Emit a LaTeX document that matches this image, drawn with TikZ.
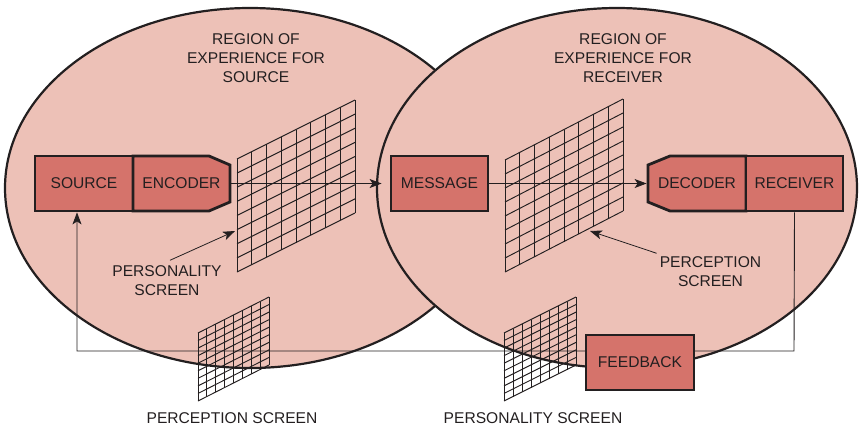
\documentclass[tikz,border=0pt]{standalone}
\usepackage{fontspec}
\setmainfont{Liberation Sans}
\usepackage{tikz}
\usetikzlibrary{arrows.meta,calc}
\definecolor{ink}{HTML}{231F20}
\definecolor{regionpink}{HTML}{EDC1B7}
\definecolor{boxred}{HTML}{D5736B}
\newcommand{\labelfont}{\fontsize{15.6}{19}\selectfont}
\tikzset{
  region/.style={fill=regionpink, draw=ink, line width=2.2pt},
  boxline/.style={fill=boxred, draw=ink, line width=2.8pt, line join=miter},
  boxtext/.style={font=\labelfont, text=ink, inner sep=0pt, minimum height=55pt},
  srcbox/.style={boxline, boxtext},
  lbl/.style={font=\labelfont, text=ink, align=center, inner sep=3pt},
  flow/.style={draw=ink, line width=0.9pt, -{Stealth[length=12pt,width=9pt,inset=3pt]}},
  gridline/.style={draw=ink, line width=0.95pt}
}
% screen: left x, top-left y, width, height, rise, columns, rows
\newcommand{\screengrid}[7]{%
  \foreach \i in {0,...,#6}
    \draw[gridline] ({#1+\i*#3/#6},{#2-\i*#5/#6}) -- ++(0,#4);
  \foreach \j in {0,...,#7}
    \draw[gridline] (#1,{#2+\j*#4/#7}) -- ++(#3,-#5);
}

\begin{document}
\begin{tikzpicture}[x=1pt, y=-1pt]
\useasboundingbox (0,0) rectangle (859,429);

% regions of experience
\draw[region] (250,188) ellipse [x radius=245, y radius=180];
\draw[region] (617,188) ellipse [x radius=240, y radius=180];
\node[lbl] (srcregion) at (256,58) {REGION OF\\EXPERIENCE FOR\\SOURCE};
\node[lbl] (rcvregion) at (623,58) {REGION OF\\EXPERIENCE FOR\\RECEIVER};

% screens inside the regions
\screengrid{237}{159}{118}{113}{59}{8}{8}
\screengrid{505}{160}{118}{112}{61}{8}{8}

% feedback loop
\coordinate (fbturn) at (794,351);
\coordinate (fbback) at (77,351);

% boxes
\node[srcbox, minimum width=98pt] (source) at (84,183.5) {SOURCE};
\draw[boxline] (133,156) -- (209,156) -- (230,165) -- (230,202) -- (209,211) -- (133,211) -- cycle
  node[boxtext, minimum width=97pt] (encoder) at (181.5,183.5) {ENCODER};
\node[srcbox, minimum width=97pt] (message) at (439.5,183.5) {MESSAGE};
\draw[boxline] (746,156) -- (670,156) -- (648,165) -- (648,202) -- (670,211) -- (746,211) -- cycle
  node[boxtext, minimum width=98pt] (decoder) at (697,183.5) {DECODER};
\node[srcbox, minimum width=97pt] (receiver) at (794.5,183.5) {RECEIVER};

\draw[flow] (receiver.south) -- (fbturn) -- (fbback) -- (fbback |- source.south);
\node[srcbox, minimum width=108pt] (feedback) at (640,362.5) {FEEDBACK};

% main flow
\draw[flow, shorten >=8pt] (encoder) -- (message);
\draw[flow] (message) -- (decoder);

% screens on the feedback path
\screengrid{198}{333}{71}{68}{36}{8}{9}
\screengrid{504}{333}{72}{68}{36}{8}{9}

% labels and pointers
\node[lbl, inner sep=5pt] (perslabel) at (167,280.5) {PERSONALITY\\SCREEN};
\node[lbl] (perclabel) at (710.5,271.5) {PERCEPTION\\SCREEN};
\coordinate (perstip) at (235,231);
\coordinate (perctip) at (590,231);
\draw[flow, line width=0.8pt] ([xshift=3pt]perslabel.north) -- (perstip);
\draw[flow, line width=0.8pt] (perclabel.north west) -- (perctip);
\node[lbl] (percbottom) at (232,418) {PERCEPTION SCREEN};
\node[lbl] (persbottom) at (533,418) {PERSONALITY SCREEN};
\end{tikzpicture}
\end{document}
